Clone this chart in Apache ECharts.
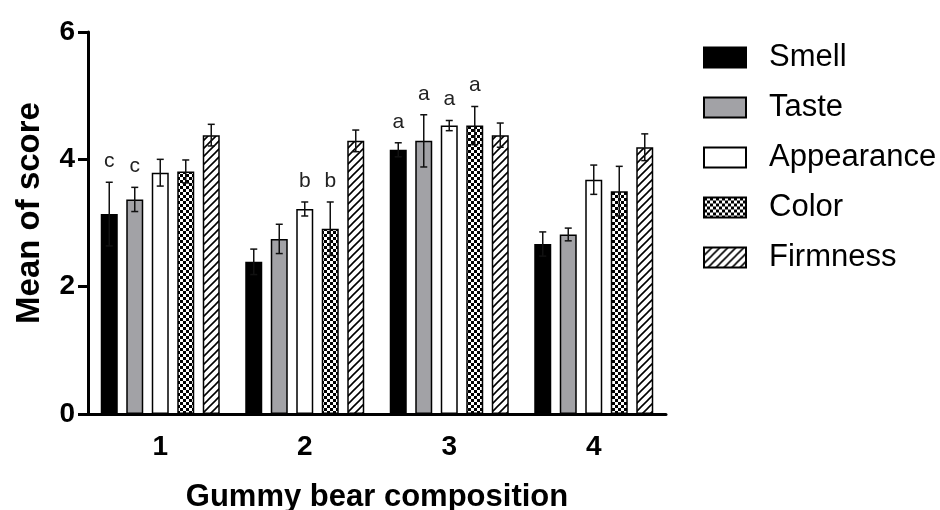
<!DOCTYPE html>
<html>
<head>
<meta charset="utf-8">
<script src="https://cdn.jsdelivr.net/npm/echarts@6/dist/echarts.min.js"></script>
<style>html,body{margin:0;padding:0;background:#fff;}#c{width:940px;height:510px;}</style>
</head>
<body>
<div id="c"></div>
<script>
var categories = ['1', '2', '3', '4'];
var seriesNames = ['Smell', 'Taste', 'Appearance', 'Color', 'Firmness'];
var smell = [3.14, 2.39, 4.15, 2.67];
var taste = [3.37, 2.75, 4.29, 2.82];
var appearance = [3.79, 3.22, 4.53, 3.68];
var color = [3.81, 2.91, 4.53, 3.50];
var firmness = [4.38, 4.29, 4.38, 4.19];
var smellErr = [0.50, 0.20, 0.11, 0.19];
var tasteErr = [0.19, 0.23, 0.41, 0.10];
var appearanceErr = [0.21, 0.11, 0.08, 0.23];
var colorErr = [0.18, 0.42, 0.30, 0.39];
var firmnessErr = [0.17, 0.17, 0.19, 0.21];
var smellLetters = ['c', '', 'a', ''];
var tasteLetters = ['c', '', 'a', ''];
var appearanceLetters = ['', 'b', 'a', ''];
var colorLetters = ['', 'b', 'a', ''];
var firmnessLetters = ['', '', '', ''];
var yTicks = [0, 2, 4, 6];

var means = [smell, taste, appearance, color, firmness];
var errs = [smellErr, tasteErr, appearanceErr, colorErr, firmnessErr];
var letters = [smellLetters, tasteLetters, appearanceLetters, colorLetters, firmnessLetters];

function checker() {
  var c = document.createElement('canvas');
  c.width = 6; c.height = 6;
  var g = c.getContext('2d');
  g.fillStyle = '#fff'; g.fillRect(0, 0, 6, 6);
  g.fillStyle = '#000';
  g.fillRect(0, 0, 3, 3); g.fillRect(3, 3, 3, 3);
  return c;
}
function hatch() {
  var s = 8;
  var c = document.createElement('canvas');
  c.width = s; c.height = s;
  var g = c.getContext('2d');
  g.fillStyle = '#fff'; g.fillRect(0, 0, s, s);
  g.strokeStyle = '#000'; g.lineWidth = 1.6;
  g.beginPath();
  g.moveTo(0, s); g.lineTo(s, 0);
  g.moveTo(-s / 2, s / 2); g.lineTo(s / 2, -s / 2);
  g.moveTo(s / 2, s * 1.5); g.lineTo(s * 1.5, s / 2);
  g.stroke();
  return c;
}

var fills = ['#000000', '#a2a2a6', '#ffffff',
  { image: checker(), repeat: 'repeat' },
  { image: hatch(), repeat: 'repeat' }];

var FONT = '"Liberation Sans", Arial, Helvetica, sans-serif';
var BAR_W = 17, PITCH = 25.5;

var series = seriesNames.map(function (name, i) {
  return {
    name: name,
    type: 'bar',
    data: means[i],
    barWidth: BAR_W,
    barGap: '50%',
    itemStyle: { color: fills[i], borderColor: '#000', borderWidth: 1.5 },
    emphasis: { disabled: true },
    z: 2
  };
});

var errData = [];
for (var s = 0; s < seriesNames.length; s++) {
  for (var k = 0; k < categories.length; k++) {
    errData.push([k, s, means[s][k], errs[s][k], letters[s][k]]);
  }
}

series.push({
  type: 'custom',
  name: 'err',
  coordinateSystem: 'cartesian2d',
  data: errData,
  encode: { x: 0, y: 2 },
  z: 5,
  silent: true,
  renderItem: function (params, api) {
    var k = api.value(0), s = api.value(1), m = api.value(2), e = api.value(3);
    var letter = errData[params.dataIndex][4];
    var base = api.coord([k, m]);
    var x = base[0] + (s - 2) * PITCH;
    var yTop = api.coord([k, m + e])[1];
    var yBot = api.coord([k, m - e])[1];
    var cap = 3.5;
    var st = { stroke: '#111', lineWidth: 1.5 };
    var children = [
      { type: 'line', shape: { x1: x, y1: yTop, x2: x, y2: yBot }, style: st },
      { type: 'line', shape: { x1: x - cap, y1: yTop, x2: x + cap, y2: yTop }, style: st },
      { type: 'line', shape: { x1: x - cap, y1: yBot, x2: x + cap, y2: yBot }, style: st }
    ];
    if (letter) {
      children.push({
        type: 'text',
        style: { text: letter, x: x, y: yTop - 21, fill: '#222', font: '21px ' + FONT, textAlign: 'center', textVerticalAlign: 'middle' }
      });
    }
    return { type: 'group', children: children };
  }
});

var chart = echarts.init(document.getElementById('c'), null, { renderer: 'canvas' });
chart.setOption({
  animation: false,
  backgroundColor: '#fff',
  grid: { left: 88, right: 274, top: 32, bottom: 96, containLabel: false, outerBoundsMode: 'none' },
  legend: {
    data: seriesNames,
    orient: 'vertical',
    left: 698,
    top: 37,
    itemWidth: 42,
    itemHeight: 20,
    itemGap: 19,
    icon: 'rect',
    selectedMode: false,
    textStyle: { fontFamily: FONT, fontSize: 31, color: '#000', padding: [0, 0, 0, 18] }
  },
  xAxis: {
    type: 'category',
    data: categories,
    name: 'Gummy bear composition',
    nameLocation: 'middle',
    nameGap: 68,
    nameTextStyle: { fontFamily: FONT, fontSize: 31, fontWeight: 'bold', color: '#000' },
    axisLine: { lineStyle: { color: '#000', width: 3 } },
    axisTick: { alignWithLabel: true, length: 10, lineStyle: { color: '#000', width: 3 } },
    axisLabel: { fontFamily: FONT, fontSize: 28, fontWeight: 'bold', color: '#000', margin: 19 },
    splitLine: { show: false }
  },
  yAxis: {
    type: 'value',
    min: 0, max: 6, interval: 2,
    name: 'Mean of score',
    nameLocation: 'middle',
    nameGap: 42,
    nameTextStyle: { fontFamily: FONT, fontSize: 33, fontWeight: 'bold', color: '#000', padding: [0, 0, 0, 20] },
    axisLine: { show: true, lineStyle: { color: '#000', width: 3 } },
    axisTick: { show: true, length: 10, lineStyle: { color: '#000', width: 3 } },
    axisLabel: {
      fontFamily: FONT, fontSize: 28, fontWeight: 'bold', color: '#000', margin: 13,
      formatter: function (v) { return yTicks.indexOf(v) >= 0 ? String(v) : ''; }
    },
    splitLine: { show: false }
  },
  series: series
});
</script>
</body>
</html>
